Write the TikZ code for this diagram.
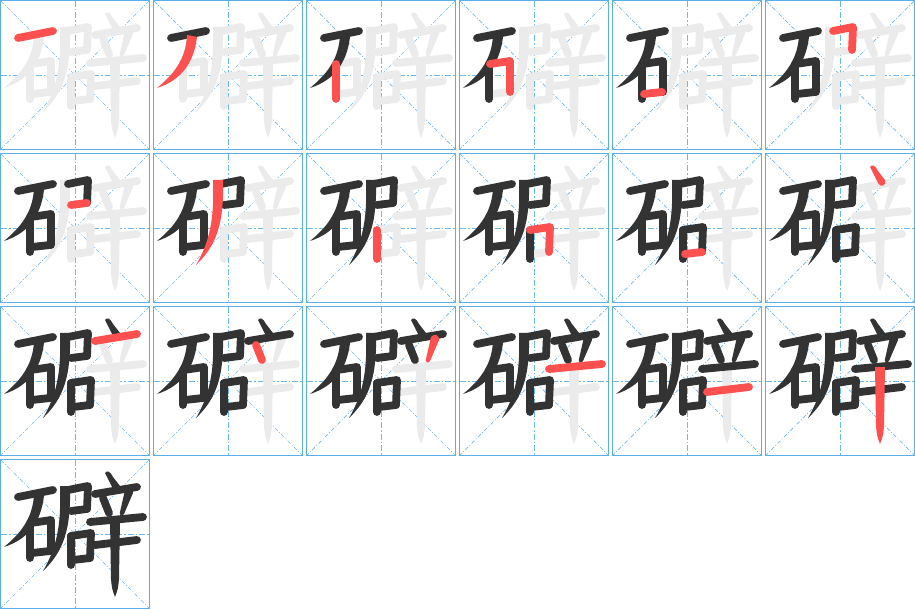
\documentclass[tikz,border=0pt]{standalone}
\definecolor{gridblue}{HTML}{5AAEEA}
\definecolor{guideblue}{HTML}{6DB8EE}
\definecolor{inkdark}{HTML}{333333}
\definecolor{inkred}{HTML}{FF5050}
\definecolor{inkgray}{HTML}{EBEBEB}
\tikzset{
  stk/.style={draw=#1, line width=7.8pt, line cap=round, line join=round},
  cellframe/.style={draw=gridblue, line width=1.4pt},
  midline/.style={draw=guideblue, line width=0.9pt, dash pattern=on 6pt off 2pt on 1.5pt off 2pt},
  diagline/.style={draw=guideblue, line width=0.7pt, dash pattern=on 4pt off 2pt on 1pt off 2pt},
}
\newcommand\hanstroke[2]{%
  \ifcase#1\relax
  \or \draw[stk=#2] (18,38) -- (53,31);
  \or \fill[#2] (34,35) .. controls (33,55) and (25,71) .. (4,88) .. controls (29,80) and (41,62) .. (44,37) -- cycle;
  \or \draw[stk=#2] (30,64) -- (30,99);
  \or \draw[stk=#2] (31,64) -- (51,61) -- (51,92);
  \or \draw[stk=#2] (32,94) -- (50,92);
  \or \draw[stk=#2] (68,31) -- (88,27) -- (87,50);
  \or \draw[stk=#2] (71,52) -- (87,50);
  \or \fill[#2] (60,27) .. controls (61,60) and (59,85) .. (43,112) .. controls (64,92) and (71,70) .. (70,27) -- cycle;
  \or \draw[stk=#2] (71,77) -- (71,106);
  \or \draw[stk=#2] (71,77) -- (91,74) -- (90,99);
  \or \draw[stk=#2] (73,101) -- (90,99);
  \or \fill[#2] (105,14) .. controls (107,11) and (110,12) .. (113,18) -- (120,27) .. controls (122,33) and (115,35) .. (113,30) -- cycle;
  \or \draw[stk=#2] (95,35) -- (137,28);
  \or \draw[stk=#2] (103,39) -- (109,54);
  \or \fill[#2] (125,31) .. controls (128,27) and (134,29) .. (133,34) -- (124,55) .. controls (122,58) and (119,56) .. (120,53) -- cycle;
  \or \draw[stk=#2] (90,63) -- (143,58);
  \or \draw[stk=#2] (95,86) -- (137,81);
  \or \fill[#2] (110,61) -- (120,61) -- (119,120) .. controls (118,130) .. (115,138) .. controls (112,130) .. (111,120) -- cycle;
  \fi}
\begin{document}
\begin{tikzpicture}[x=1pt,y=-1pt]
\useasboundingbox (0,0) rectangle (915,609);
\foreach \n in {1,...,19}{
  \pgfmathtruncatemacro\col{mod(\n-1,6)}
  \pgfmathtruncatemacro\row{div(\n-1,6)}
  \begin{scope}[shift={(153*\col,153*\row)}]
    \draw[diagline] (1,1) -- (149,149);
    \draw[diagline] (149,1) -- (1,149);
    \draw[midline] (1,75) -- (149,75);
    \draw[midline] (75,1) -- (75,149);
    \draw[cellframe] (0.7,0.7) rectangle (149.3,149.3);
    \foreach \i in {1,...,18}{\ifnum\i>\n \hanstroke{\i}{inkgray}\fi}
    \foreach \i in {1,...,18}{\ifnum\i<\n \hanstroke{\i}{inkdark}\fi}
    \foreach \i in {1,...,18}{\ifnum\i=\n \hanstroke{\i}{inkred}\fi}
  \end{scope}
}
\end{tikzpicture}
\end{document}
